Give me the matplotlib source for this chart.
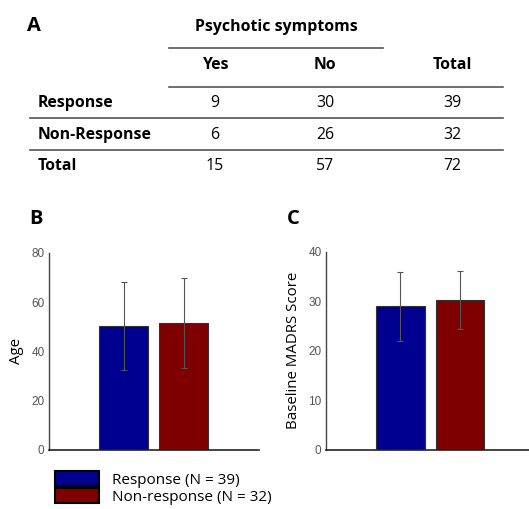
import matplotlib
matplotlib.use("Agg")
import matplotlib.pyplot as plt
from matplotlib.lines import Line2D
from matplotlib.patches import Patch

W, H = 529, 509

# table data
col_labels = ["Yes", "No", "Total"]
row_labels = ["Response", "Non-Response", "Total"]
table_vals = [[9, 30, 39],
              [6, 26, 32],
              [15, 57, 72]]

# bar data
groups = ["Response (N = 39)", "Non-response (N = 32)"]
age_mean = [50.3, 51.5]
age_sd = [17.7, 18.3]
madrs_mean = [29.0, 30.3]
madrs_sd = [7.0, 5.8]
colors = ["#000090", "#7f0000"]

plt.rcParams["font.family"] = ["Open Sans", "DejaVu Sans"]

fig = plt.figure(figsize=(W / 100, H / 100), dpi=100)

def fx(px):
    return px / W

def fy(py):
    return 1 - py / H

def hline(x0, x1, y, c="#555555", lw=1.2):
    fig.add_artist(Line2D([fx(x0), fx(x1)], [fy(y), fy(y)], color=c, lw=lw))

# ---- panel A: table ----
fs = 11.4
fig.text(fx(27), fy(26), "A", fontsize=14.5, fontweight="bold", va="center")
fig.text(fx(276), fy(27), "Psychotic symptoms", fontsize=fs, fontweight="bold",
         ha="center", va="center")
hline(169, 383, 48)
col_x = [215, 325, 452]
for x, lab in zip(col_x, col_labels):
    fig.text(fx(x), fy(65), lab, fontsize=fs, fontweight="bold", ha="center", va="center")
hline(169, 503, 87)
row_y = [103, 135, 166]
for i, (y, lab) in enumerate(zip(row_y, row_labels)):
    fig.text(fx(38), fy(y), lab, fontsize=fs, fontweight="bold", ha="left", va="center")
    for x, v in zip(col_x, table_vals[i]):
        fig.text(fx(x), fy(y), str(v), fontsize=fs, ha="center", va="center")
hline(30, 503, 118)
hline(30, 503, 150)

# ---- bar panels ----
def bar_panel(rect, means, sds, ymax, yticks, ylabel, xlim):
    ax = fig.add_axes(rect)
    ax.bar([0, 1], means, width=0.82, color=colors, edgecolor="#333333", linewidth=0.8,
           zorder=2)
    ax.errorbar([0, 1], means, yerr=sds, fmt="none", ecolor="#555555", elinewidth=0.8,
                capsize=2, capthick=0.8, zorder=3)
    ax.set_ylim(0, ymax)
    ax.set_xlim(*xlim)
    ax.set_yticks(yticks)
    ax.set_xticks([])
    for s in ["top", "right"]:
        ax.spines[s].set_visible(False)
    ax.spines["left"].set_color("#444444")
    ax.spines["bottom"].set_color("#222222")
    ax.spines["left"].set_linewidth(1.0)
    ax.spines["bottom"].set_linewidth(1.2)
    ax.tick_params(axis="y", length=0, pad=3, labelsize=8.5, labelcolor="#555555")
    for t in ax.get_yticklabels():
        t.set_fontfamily("Liberation Sans")
    ax.set_ylabel(ylabel, fontsize=10.8, labelpad=5)
    return ax

axB = bar_panel([fx(48.7), 1 - 450 / H, fx(259 - 48.7), (450 - 252.7) / H],
                age_mean, age_sd, 80, [0, 20, 40, 60, 80], "Age", (-1.25, 2.26))
axC = bar_panel([fx(325.7), 1 - 450 / H, fx(529 - 325.7), (450 - 251.7) / H],
                madrs_mean, madrs_sd, 40, [0, 10, 20, 30, 40], "Baseline MADRS Score",
                (-1.257, 2.16))

fig.text(fx(29), fy(219), "B", fontsize=14.5, fontweight="bold", va="center")
fig.text(fx(287), fy(219), "C", fontsize=14.5, fontweight="bold", va="center")

handles = [Patch(facecolor=c, edgecolor="black", linewidth=1.5) for c in colors]
fig.legend(handles, groups, loc="upper left", bbox_to_anchor=(fx(55), fy(471)),
           frameon=False, fontsize=11, handlelength=2.9, handleheight=1.1,
           labelspacing=0.05, handletextpad=0.8, borderaxespad=0, borderpad=0)

fig.savefig("out.png", dpi=100)
